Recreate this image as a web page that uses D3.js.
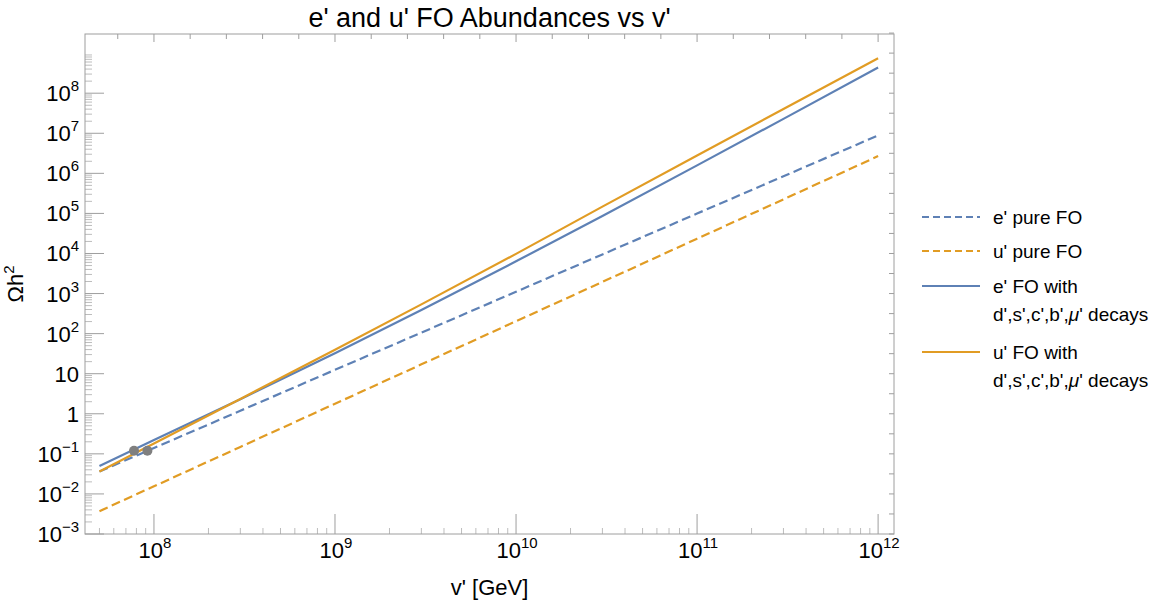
<!DOCTYPE html>
<html>
<head>
<meta charset="utf-8">
<script src="https://cdn.jsdelivr.net/npm/d3@7"></script>
<style>
	body { margin: 0; background: #fff; }
	text { font-family: "Liberation Sans", Arial, sans-serif; fill: #000; }
	.frame { fill: none; stroke: #9e9e9e; stroke-width: 1; }
	.tick { stroke: #9e9e9e; stroke-width: 1; }
	.minor { stroke: #bdbdbd; stroke-width: 1; }
	.curve { fill: none; stroke-width: 2.2; }
</style>
</head>
<body>
<script>

var vPrime = [5e7, 1e8, 3e8, 1e9, 3e9, 1e10, 3e10, 1e11, 3e11, 1e12];

// Omega h^2 series
var ePure = [0.0363, 0.140, 1.19, 12.5, 106, 1110, 9480, 9.93e4, 8.45e5, 8.85e6];
var uPure = [0.00372, 0.0155, 0.149, 1.78, 17.1, 204, 1950, 2.34e4, 2.24e5, 2.69e6];
var eDecay = [0.050, 0.221, 2.32, 32.4, 389, 6380, 8.6e4, 1.58e6, 2.29e7, 4.37e8];
var uDecay = [0.0363, 0.182, 2.34, 39.8, 537, 9770, 1.48e5, 2.79e6, 4.03e7, 7.41e8];

// observed relic abundance points
var dotsV = [7.76e7, 9.2e7];
var dotsOmega = [0.12, 0.12];

// tick decades
var xDecades = [8, 9, 10, 11, 12];
var yDecades = [-3, -2, -1, 0, 1, 2, 3, 4, 5, 6, 7, 8];

var legendLabels = [
	["e' pure FO"],
	["u' pure FO"],
	["e' FO with", "d',s',c',b',μ' decays"],
	["u' FO with", "d',s',c',b',μ' decays"]
];

var blue = "#5e81b5";
var orange = "#e19c24";

var w = 1163;
var h = 603;
var pLeft = 85, pRight = 894, pTop = 34, pBottom = 534;

//Define log scalers
var xScale = d3.scaleLog()
	.domain([4.16e7, 1.224e12])
	.range([pLeft, pRight]);

var yScale = d3.scaleLog()
	.domain([1e-3, 3.0e9])
	.range([pBottom, pTop]);

//Create SVG element
var svg = d3.select("body")
	.append("svg")
	.attr("width", w)
	.attr("height", h);

svg.append("defs").append("clipPath")
	.attr("id", "plotclip")
	.append("rect")
	.attr("x", pLeft)
	.attr("y", pTop)
	.attr("width", pRight - pLeft)
	.attr("height", pBottom - pTop);

// minor ticks: 2..9 times each decade
function minorValues(lo, hi) {
	var out = [];
	for (var e = lo; e <= hi; e++) {
		for (var m = 2; m <= 9; m++) out.push(m * Math.pow(10, e));
	}
	return out;
}

var ticks = svg.append("g");

//Bottom axis ticks
ticks.selectAll("line.xminor")
	.data(minorValues(7, 11).filter(v => xScale(v) > pLeft && xScale(v) < pRight))
	.enter()
	.append("line")
	.attr("class", "minor")
	.attr("x1", d => xScale(d)).attr("x2", d => xScale(d))
	.attr("y1", pBottom).attr("y2", pBottom - 6);

ticks.selectAll("line.xmajor")
	.data(xDecades)
	.enter()
	.append("line")
	.attr("class", "tick")
	.attr("x1", d => xScale(Math.pow(10, d))).attr("x2", d => xScale(Math.pow(10, d)))
	.attr("y1", pBottom).attr("y2", pBottom - 20);

//Top axis ticks, every 0.2 decade
var topTicks = d3.range(39, 61).map(k => k / 5);
ticks.selectAll("line.xtop")
	.data(topTicks)
	.enter()
	.append("line")
	.attr("class", "tick")
	.attr("x1", d => xScale(Math.pow(10, d))).attr("x2", d => xScale(Math.pow(10, d)))
	.attr("y1", pTop).attr("y2", d => pTop + (Math.abs(d - Math.round(d)) < 1e-9 ? 8 : 5));

//Left axis ticks
ticks.selectAll("line.yminor")
	.data(minorValues(-3, 8).filter(v => yScale(v) > pTop))
	.enter()
	.append("line")
	.attr("class", "minor")
	.attr("x1", pLeft).attr("x2", pLeft + 7)
	.attr("y1", d => yScale(d)).attr("y2", d => yScale(d));

ticks.selectAll("line.ymajor")
	.data(yDecades)
	.enter()
	.append("line")
	.attr("class", "tick")
	.attr("x1", pLeft).attr("x2", pLeft + 19)
	.attr("y1", d => yScale(Math.pow(10, d))).attr("y2", d => yScale(Math.pow(10, d)));

//Right axis ticks, every half decade
var rightTicks = d3.range(-6, 20).map(k => k / 2);
ticks.selectAll("line.yright")
	.data(rightTicks)
	.enter()
	.append("line")
	.attr("class", "tick")
	.attr("x1", pRight).attr("x2", pRight - 5)
	.attr("y1", d => yScale(Math.pow(10, d))).attr("y2", d => yScale(Math.pow(10, d)));

//Frame
svg.append("rect")
	.attr("class", "frame")
	.attr("x", pLeft)
	.attr("y", pTop)
	.attr("width", pRight - pLeft)
	.attr("height", pBottom - pTop);

// power-of-ten label with superscript
function powLabel(sel, e) {
	if (e == 0) { sel.text("1"); return; }
	if (e == 1) { sel.text("10"); return; }
	sel.append("tspan").text("10");
	sel.append("tspan")
		.attr("dy", -10)
		.attr("font-size", "15px")
		.text(String(e).replace("-", "\u2212"));
}

//X tick labels
xDecades.forEach(e => {
	svg.append("text")
		.attr("x", xScale(Math.pow(10, e)) + 1)
		.attr("y", 558)
		.attr("text-anchor", "middle")
		.attr("font-size", "22px")
		.call(powLabel, e);
});

//Y tick labels
yDecades.forEach(e => {
	svg.append("text")
		.attr("x", 79)
		.attr("y", yScale(Math.pow(10, e)) + 8)
		.attr("text-anchor", "end")
		.attr("font-size", "22px")
		.call(powLabel, e);
});

//Curves
var line = d3.line()
	.x(d => xScale(d[0]))
	.y(d => yScale(d[1]));

var series = [
	{ vals: ePure, color: blue, dash: "9,4.5" },
	{ vals: uPure, color: orange, dash: "9,4.5" },
	{ vals: eDecay, color: blue, dash: null },
	{ vals: uDecay, color: orange, dash: null }
];

var plot = svg.append("g").attr("clip-path", "url(#plotclip)");

plot.selectAll("path.curve")
	.data(series)
	.enter()
	.append("path")
	.attr("class", "curve")
	.attr("d", s => line(vPrime.map((v, i) => [v, s.vals[i]])))
	.attr("stroke", s => s.color)
	.attr("stroke-dasharray", s => s.dash);

//Dots
plot.selectAll("circle.dot")
	.data(dotsV)
	.enter()
	.append("circle")
	.attr("cx", d => xScale(d))
	.attr("cy", (d, i) => yScale(dotsOmega[i]))
	.attr("r", 5)
	.attr("fill", "#7f7f7f");

//Title
svg.append("text")
	.text("e' and u' FO Abundances vs v'")
	.attr("x", (pLeft + pRight) / 2)
	.attr("y", 27)
	.attr("text-anchor", "middle")
	.attr("font-size", "27px");

svg.append("text")
	.text("v' [GeV]")
	.attr("x", (pLeft + pRight) / 2)
	.attr("y", 595)
	.attr("text-anchor", "middle")
	.attr("font-size", "22px");

var ylab = svg.append("text")
	.attr("transform", "translate(23,284) rotate(-90)")
	.attr("text-anchor", "middle")
	.attr("font-size", "22px");
ylab.append("tspan").text("Ωh");
ylab.append("tspan").attr("dy", -9).attr("font-size", "15px").text("2");

//Legend
var legendLineY = [217, 251, 286, 352];
var legendGroup = svg.append("g");
series.forEach((s, i) => {
	legendGroup.append("line")
		.attr("x1", 922).attr("x2", 980)
		.attr("y1", legendLineY[i]).attr("y2", legendLineY[i])
		.attr("stroke", s.color)
		.attr("stroke-width", 2.2)
		.attr("stroke-dasharray", s.dash ? "7,4" : null);
	legendLabels[i].forEach((t, j) => {
		var txt = legendGroup.append("text")
			.attr("x", 993)
			.attr("y", legendLineY[i] + 7 + j * 28)
			.attr("font-size", "19px");
		if (t.indexOf("μ") >= 0) {
			var parts = t.split("μ");
			txt.append("tspan").text(parts[0]);
			txt.append("tspan").attr("font-style", "italic").text("μ");
			txt.append("tspan").text(parts[1]);
		} else {
			txt.text(t);
		}
	});
});

</script>
</body>
</html>
